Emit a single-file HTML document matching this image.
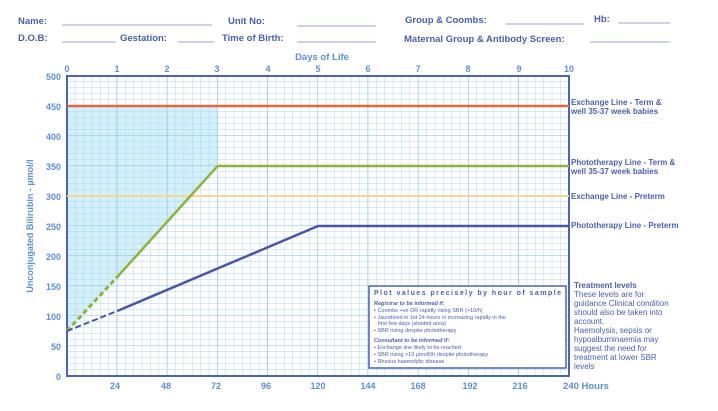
<!DOCTYPE html>
<html><head><meta charset="utf-8"><style>
body{margin:0;background:#fff;}
svg{display:block;font-family:"Liberation Sans",sans-serif;font-weight:bold;}
</style></head><body>
<svg width="718" height="411" viewBox="0 0 718 411" xmlns="http://www.w3.org/2000/svg">
<defs>
<pattern id="minor" patternUnits="userSpaceOnUse" x="67" y="76" width="8.3667" height="6">
<path d="M8.3667 0V6M0 6H8.3667" stroke="#acd6ef" stroke-width="0.9" fill="none"/>
</pattern>
<pattern id="majv" patternUnits="userSpaceOnUse" x="67" y="76" width="50.2" height="30">
<path d="M50.2 0V30M0 30H50.2" stroke="#80bfe8" stroke-width="1.1" fill="none"/>
</pattern>
</defs>
<rect width="718" height="411" fill="#fff"/>
<g fill="#4a5fae" font-size="9.5">
<text x="18" y="24">Name:</text>
<text x="228" y="24">Unit No:</text>
<text x="405" y="23">Group &amp; Coombs:</text>
<text x="594" y="22">Hb:</text>
<text x="18" y="41">D.O.B:</text>
<text x="120" y="41">Gestation:</text>
<text x="222" y="41">Time of Birth:</text>
<text x="404" y="42">Maternal Group &amp; Antibody Screen:</text>
</g>
<g stroke="#9aa6d6" stroke-width="1">
<line x1="62" y1="25" x2="212" y2="25"/><line x1="297" y1="26" x2="376" y2="26"/>
<line x1="506" y1="24" x2="584" y2="24"/><line x1="618" y1="23" x2="670" y2="23"/>
<line x1="62" y1="42" x2="116" y2="42"/><line x1="178" y1="42" x2="214" y2="42"/>
<line x1="297" y1="42" x2="376" y2="42"/><line x1="590" y1="42" x2="670" y2="42"/>
</g>
<text x="322" y="60" fill="#5b8fd6" font-size="9.5" text-anchor="middle">Days of Life</text>
<g fill="#5b8fd6" font-size="9" text-anchor="middle">
<text x="67" y="72">0</text><text x="117" y="72">1</text><text x="167" y="72">2</text><text x="217" y="72">3</text><text x="268" y="72">4</text><text x="318" y="72">5</text><text x="368" y="72">6</text><text x="418" y="72">7</text><text x="468" y="72">8</text><text x="519" y="72">9</text><text x="569" y="72">10</text>
</g>
<polygon points="67,106 217.6,106 217.6,166 117.2,277 67,331" fill="#d3eff9"/>
<rect x="67" y="76" width="502" height="300" fill="url(#minor)"/>
<rect x="67" y="76" width="502" height="300" fill="url(#majv)"/>
<rect x="67" y="76" width="502" height="300" fill="none" stroke="#4a64b4" stroke-width="2"/>
<line x1="67" y1="106" x2="569" y2="106" stroke="#e8643c" stroke-width="2.5"/>
<line x1="67" y1="196" x2="569" y2="196" stroke="#f5d98a" stroke-width="2"/>
<polyline points="117.2,277 217.6,166 569,166" fill="none" stroke="#8db33a" stroke-width="2.5"/>
<line x1="67" y1="331" x2="117.2" y2="277" stroke="#8db33a" stroke-width="3" stroke-dasharray="5,3"/>
<polyline points="117.2,311 318,226 569,226" fill="none" stroke="#4a55a8" stroke-width="2.5"/>
<line x1="67" y1="331" x2="117.2" y2="311" stroke="#4a55a8" stroke-width="2" stroke-dasharray="6,3"/>
<g fill="#5b8fd6" font-size="9" text-anchor="end">
<text x="61" y="80">500</text><text x="61" y="110">450</text><text x="61" y="140">400</text><text x="61" y="170">350</text><text x="61" y="200">300</text><text x="61" y="230">250</text><text x="61" y="260">200</text><text x="61" y="290">150</text><text x="61" y="320">100</text><text x="61" y="350">50</text><text x="61" y="380">0</text>
</g>
<text transform="translate(33,226) rotate(-90)" fill="#5b8fd6" font-size="9" text-anchor="middle">Unconjugated Bilirubin - µmol/l</text>
<g fill="#5b8fd6" font-size="9" text-anchor="middle">
<text x="115" y="389">24</text><text x="166" y="389">48</text><text x="216" y="389">72</text><text x="266" y="389">96</text><text x="318" y="389">120</text><text x="368" y="389">144</text><text x="418" y="389">168</text><text x="470" y="389">192</text><text x="520" y="389">216</text><text x="586" y="389" font-size="9.5">240 Hours</text>
</g>
<g fill="#4a5fae" font-size="8">
<text x="571" y="105">Exchange Line - Term &amp;</text><text x="571" y="114">well 35-37 week babies</text>
<text x="571" y="165">Phototherapy Line - Term &amp;</text><text x="571" y="174">well 35-37 week babies</text>
<text x="571" y="199">Exchange Line - Preterm</text>
<text x="571" y="228">Phototherapy Line - Preterm</text>
</g>
<g fill="#4a5fae" font-size="8" font-weight="normal">
<text x="574" y="288" font-weight="bold">Treatment levels</text>
<text x="574" y="297">These levels are for</text>
<text x="574" y="306">guidance  Clinical condition</text>
<text x="574" y="315">should also be taken into</text>
<text x="574" y="324">account.</text>
<text x="574" y="333">Haemolysis, sepsis or</text>
<text x="574" y="342">hypoalbuminaemia may</text>
<text x="574" y="351">suggest the need for</text>
<text x="574" y="360">treatment at lower SBR</text>
<text x="574" y="369">levels</text>
</g>
<rect x="369" y="286" width="197" height="82" fill="#fff" stroke="#4a64b4" stroke-width="1.5"/>
<g fill="#4a5fae" font-weight="normal">
<text x="374" y="295" font-size="7" font-weight="bold" textLength="187">Plot values precisely by hour of sample</text>
<text x="374" y="305" font-size="5.5" font-style="italic" font-weight="bold">Registrar to be informed if:</text>
<text x="374" y="312" font-size="5.5">•  Coombs +ve  OR rapidly rising SBR (&gt;10/h)</text>
<text x="374" y="319" font-size="5.5">•  Jaundiced in 1st 24 hours or increasing rapidly in the</text>
<text x="378" y="325" font-size="5.5">first few days (shaded area)</text>
<text x="374" y="332" font-size="5.5">•  SBR rising despite phototherapy</text>
<text x="374" y="342" font-size="5.5" font-style="italic" font-weight="bold">Consultant to be informed if:</text>
<text x="374" y="349" font-size="5.5">•  Exchange line likely to be reached</text>
<text x="374" y="356" font-size="5.5">•  SBR rising &gt;10 µmol/l/h despite phototherapy</text>
<text x="374" y="363" font-size="5.5">•  Rhesus haemolytic disease</text>
</g>
</svg>
</body></html>
